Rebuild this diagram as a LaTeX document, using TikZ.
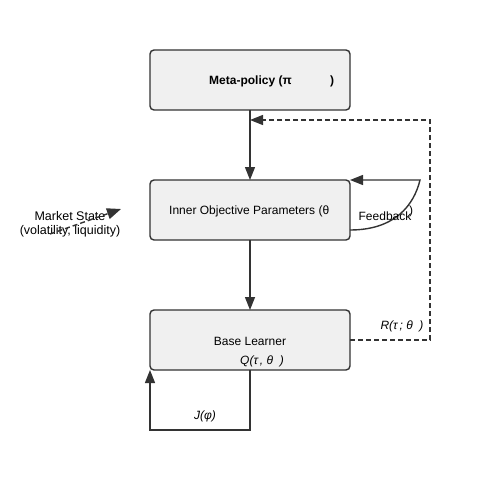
\documentclass[tikz,border=0pt]{standalone}
\usepackage{fontspec}
\setmainfont{Liberation Sans}
\usetikzlibrary{arrows.meta}
\definecolor{stroke}{HTML}{333333}
\definecolor{boxfill}{HTML}{F0F0F0}
\tikzset{
  box/.style={draw=stroke, fill=boxfill, line width=1.4pt, rounded corners=4pt,
    minimum width=200pt, minimum height=60pt, inner sep=0pt},
  conn/.style={draw=stroke, line width=1.4pt, -{Triangle[length=13pt,width=10pt]}},
  dconn/.style={conn, dash pattern=on 5pt off 3pt},
  lbl/.style={font=\fontsize{12pt}{14pt}\selectfont, text=black, inner sep=0pt},
  ilbl/.style={lbl, font=\fontsize{12pt}{14pt}\selectfont\itshape}
}
\begin{document}
\begin{tikzpicture}[x=1pt,y=-1pt]
\useasboundingbox (0,0) rectangle (500,500);
\fill[white] (0,0) rectangle (500,500);
% boxes
\node[box] (meta) at (250,80) {};
\node[box] (inner) at (250,210) {};
\node[box] (base) at (250,340) {};
% labels in boxes
\node[lbl, font=\fontsize{12pt}{14pt}\selectfont\bfseries, anchor=west] (metat) at (209,81) {Meta-policy (π};
\node[lbl, font=\fontsize{12pt}{14pt}\selectfont\bfseries] (metap) at (332,81) {)};
\node[lbl, anchor=west] (innert) at (169,211) {Inner Objective Parameters (θ};
\node[lbl] (baset) at (250,341) {Base Learner};
\node[ilbl] (qlbl) at (262,361) {Q(τ\,, θ\ \ )};
% coordinates
\coordinate (m1) at (250,110);
\coordinate (i1) at (250,180);
\coordinate (i2) at (250,240);
\coordinate (b1) at (250,310);
\coordinate (bR) at (350,340);
\coordinate (dA) at (430,340);
\coordinate (dB) at (430,120);
\coordinate (dC) at (250,120);
\coordinate (fS) at (350,230);
\coordinate (fC) at (420,180);
\coordinate (fE) at (350,180);
\coordinate (lB) at (250,370);
\coordinate (lC) at (250,430);
\coordinate (lD) at (150,430);
\coordinate (lE) at (150,370);
\coordinate (msS) at (50,234);
\coordinate (msE) at (121,209);
% connectors
\draw[conn] (m1) -- (i1);
\draw[conn] (i2) -- (b1);
\draw[dconn] (bR) -- (dA) -- (dB) -- (dC);
\draw[conn] (fS) .. controls (395,230) and (414,205) .. (fC) -- (fE);
\draw[conn] (lB) -- (lC) -- (lD) -- (lE);
% labels
\node[ilbl] (rlbl) at (402,326) {R(τ\,; θ\ \ )};
\node[ilbl] (jlbl) at (205,416) {J(φ)};
\node[lbl] (fb) at (385,216) {Feedback};
\node[lbl] (fbp) at (411,211) {)};
\node[lbl, font=\fontsize{12.5pt}{14pt}\selectfont] (ms1) at (70,216) {Market State};
\node[lbl, font=\fontsize{12.5pt}{14pt}\selectfont] (ms2) at (70,231) {(volatility, liquidity)};
\draw[dconn, -{Triangle[length=14pt,width=11pt]}] (msS) -- (msE);
\end{tikzpicture}
\end{document}
